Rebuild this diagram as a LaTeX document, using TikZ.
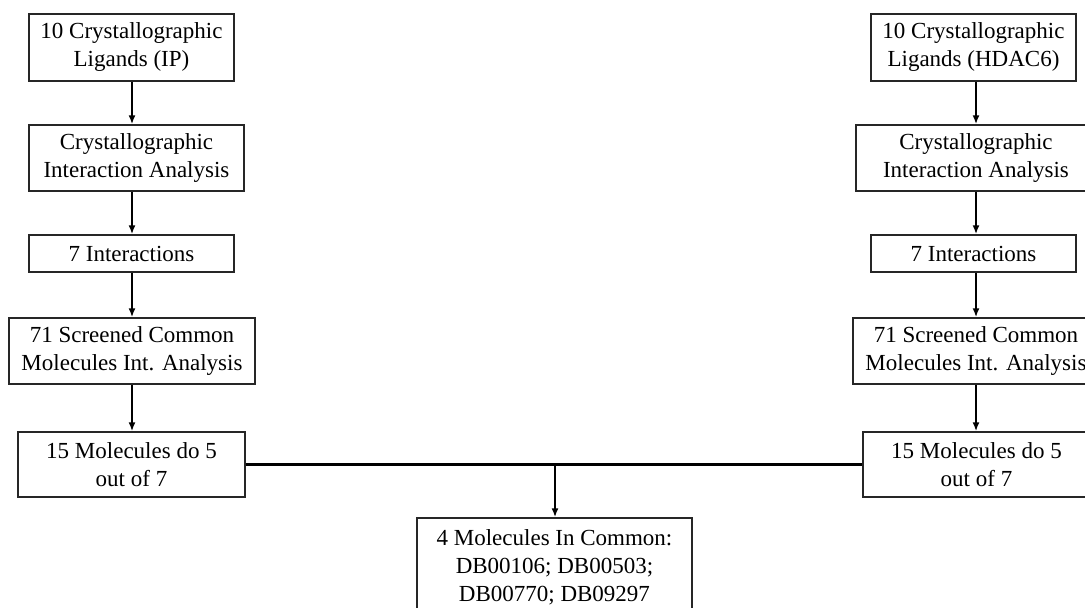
\documentclass[tikz,border=0pt]{standalone}
\usepackage{fontspec}
\setmainfont{Liberation Serif}
\usetikzlibrary{arrows.meta}
\begin{document}
\begin{tikzpicture}[x=1pt,y=-1pt,
  box/.style={draw=black!85, line width=1.4pt, align=center, inner sep=0pt,
    font=\fontsize{23}{28}\selectfont},
  conn/.style={line width=2.2pt, -{Latex[length=9pt,width=7pt]}},
  link/.style={line width=2.2pt}]
\useasboundingbox (0,0) rectangle (1085,608);
% left column
\node[box, minimum width=205pt, minimum height=67pt] (L1) at (131.5,47.5) {10 Crystallographic\\Ligands (IP)};
\node[box, minimum width=215pt, minimum height=66pt] (L2) at (136.5,158) {Crystallographic\\Interaction Analysis};
\node[box, minimum width=205pt, minimum height=37pt] (L3) at (131.5,253.5) {7 Interactions};
\node[box, minimum width=246pt, minimum height=66pt] (L4) at (132,351) {71 Screened Common\\Molecules Int. Analysis};
\node[box, minimum width=227pt, minimum height=65pt] (L5) at (131.5,464.5) {15 Molecules do 5\\out of 7};
% right column
\node[box, minimum width=205pt, minimum height=67pt] (R1) at (973.5,47.5) {10 Crystallographic\\Ligands (HDAC6)};
\node[box, minimum width=240pt, minimum height=66pt] (R2) at (976,158) {Crystallographic\\Interaction Analysis};
\node[box, minimum width=205pt, minimum height=37pt] (R3) at (973.5,253.5) {7 Interactions};
\node[box, minimum width=246pt, minimum height=66pt] (R4) at (976,351) {71 Screened Common\\Molecules Int. Analysis};
\node[box, minimum width=227pt, minimum height=65pt] (R5) at (976.5,464.5) {15 Molecules do 5\\out of 7};
% bottom
\node[box, minimum width=275pt, minimum height=98pt] (B) at (554.5,567) {4 Molecules In Common:\\DB00106; DB00503;\\DB00770; DB09297};
\coordinate (J) at (555,464.5);
% connectors
\draw[conn] (L1.south -| 132,0) -- (L2.north -| 132,0);
\draw[conn] (L2.south -| 132,0) -- (L3.north -| 132,0);
\draw[conn] (L3.south -| 132,0) -- (L4.north -| 132,0);
\draw[conn] (L4.south -| 132,0) -- (L5.north -| 132,0);
\draw[conn] (R1.south -| 976,0) -- (R2.north -| 976,0);
\draw[conn] (R2.south -| 976,0) -- (R3.north -| 976,0);
\draw[conn] (R3.south -| 976,0) -- (R4.north -| 976,0);
\draw[conn] (R4.south -| 976,0) -- (R5.north -| 976,0);
\draw[link] (L5.east) -- (R5.west);
\draw[conn] (J) -- (J |- B.north);
\end{tikzpicture}
\end{document}
